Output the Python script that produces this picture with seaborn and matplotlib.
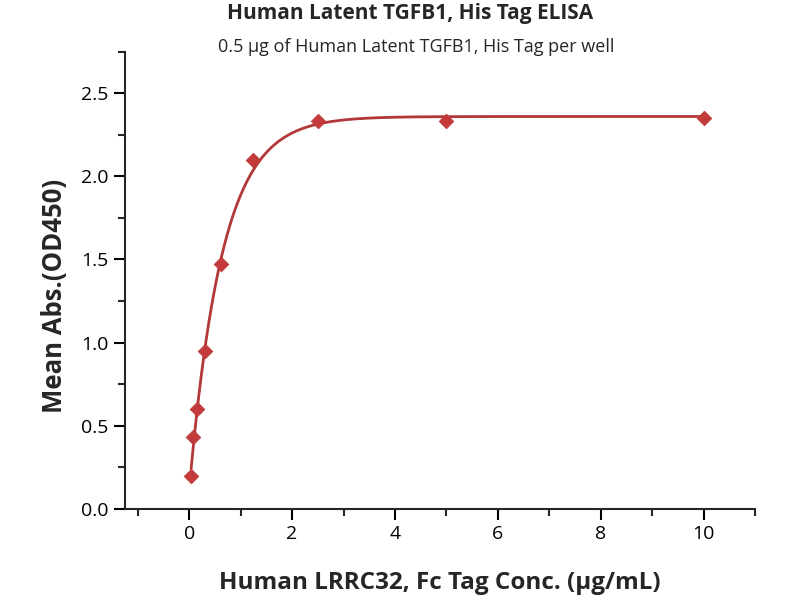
import numpy as np
import pandas as pd
import matplotlib
matplotlib.use('Agg')
import matplotlib.pyplot as plt
import seaborn as sns
from matplotlib.ticker import MultipleLocator

# ELISA readings
conc = [0.039, 0.078, 0.156, 0.3125, 0.625, 1.25, 2.5, 5.0, 10.0]
od450 = [0.20, 0.43, 0.60, 0.95, 1.47, 2.10, 2.33, 2.33, 2.35]

df = pd.DataFrame({'conc': conc, 'od': od450})

# saturation fit y = y0 + (top - y0) * (1 - exp(-k x)): grid over k, linear solve for y0/top
x = df['conc'].values
y = df['od'].values
best = None
for k in np.linspace(0.5, 4.0, 351):
    g = np.exp(-k * x)
    A = np.column_stack([g, 1 - g])
    coef, *_ = np.linalg.lstsq(A, y, rcond=None)
    err = np.sum((A @ coef - y) ** 2)
    if best is None or err < best[0]:
        best = (err, k, coef)
_, k_fit, (y0, top) = best
xs = np.linspace(x.min(), x.max(), 400)
ys = y0 + (top - y0) * (1 - np.exp(-k_fit * xs))
fit = pd.DataFrame({'conc': xs, 'od': ys})

sns.set_style("ticks")
plt.rcParams['font.family'] = ['Open Sans', 'DejaVu Sans']

fig = plt.figure(figsize=(8, 6), dpi=100)
ax = fig.add_axes([0.156, 0.152, 0.788, 0.762])

red = '#c23a3a'
sns.lineplot(data=fit, x='conc', y='od', ax=ax, color='#b33838', linewidth=2)
sns.scatterplot(data=df, x='conc', y='od', ax=ax, marker='D', s=55,
                color=red, edgecolor=red, zorder=3)

ax.set_xlim(-1.25, 11)
ax.set_ylim(0, 2.75)
ax.xaxis.set_minor_locator(MultipleLocator(1))
ax.yaxis.set_minor_locator(MultipleLocator(0.25))
ax.set_xticks([0, 2, 4, 6, 8, 10])
ax.set_yticks([0.0, 0.5, 1.0, 1.5, 2.0, 2.5])
ax.set_yticklabels(['0.0', '0.5', '1.0', '1.5', '2.0', '2.5'])
ax.tick_params(which='major', direction='out', length=8, width=1.5, labelsize=14, colors='black')
ax.tick_params(which='minor', direction='out', length=5, width=1.5)
for s in ['left', 'bottom']:
    ax.spines[s].set_linewidth(1.5)
sns.despine(ax=ax)

ax.set_xlabel('Human LRRC32, Fc Tag Conc. (μg/mL)', fontsize=17.5, fontweight='bold', labelpad=20)
ax.set_ylabel('Mean Abs.(OD450)', fontsize=18.5, fontweight='bold')
ax.yaxis.set_label_coords(-0.09, 0.465)

fig.text(0.513, 0.978, 'Human Latent TGFB1, His Tag ELISA', ha='center', va='center',
         fontsize=15, fontweight='bold')
fig.text(0.52, 0.922, '0.5 μg of Human Latent TGFB1, His Tag per well', ha='center',
         va='center', fontsize=13)

plt.savefig('out.png', dpi=100)
plt.close()
